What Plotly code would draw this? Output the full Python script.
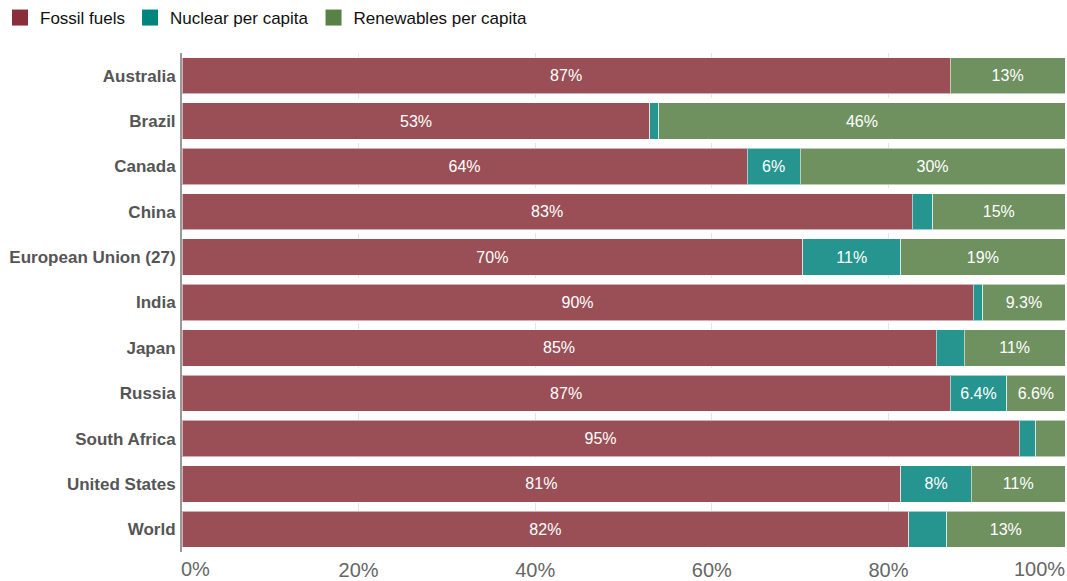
import plotly.graph_objects as go

countries = ["Australia", "Brazil", "Canada", "China", "European Union (27)", "India",
             "Japan", "Russia", "South Africa", "United States", "World"]
fossil = [87.0, 53.0, 64.0, 82.7, 70.3, 89.6, 85.4, 87.0, 94.8, 81.4, 82.3]
nuclear = [0.0, 1.0, 6.0, 2.3, 11.1, 1.1, 3.2, 6.4, 1.9, 8.0, 4.3]
renewables = [13.0, 46.0, 30.0, 15.0, 18.6, 9.3, 11.4, 6.6, 3.3, 10.6, 13.4]
tick_vals = [0, 20, 40, 60, 80, 100]
tick_text = ["0%", "20%", "40%", "60%", "80%", "100%"]

series = [
    ("Fossil fuels", fossil, "#8a2e39", "#9a4f56"),
    ("Nuclear per capita", nuclear, "#00847e", "#27958f"),
    ("Renewables per capita", renewables, "#578145", "#6f915f"),
]

FONT = "Liberation Sans, Arial, sans-serif"


def fmt(v):
    # two significant figures, trailing zeros dropped
    if v >= 10:
        return f"{int(v + 0.5)}%"
    s = f"{v:.1f}".rstrip("0").rstrip(".")
    return s + "%"


def label(v):
    return fmt(v) if v >= 5.5 else ""


fig = go.Figure()
for name, vals, legend_color, bar_color in series:
    fig.add_trace(go.Bar(
        y=countries, x=vals, orientation="h", name=name, showlegend=False,
        marker=dict(color=bar_color, line=dict(color="rgba(255,255,255,0.55)", width=1)),
        text=[label(v) for v in vals], textposition="inside", insidetextanchor="middle",
        textfont=dict(color="white", size=16, family=FONT),
        constraintext="none", hoverinfo="x+y",
    ))
    # legend entry with a larger square swatch
    fig.add_trace(go.Scatter(
        x=[None], y=[None], mode="markers", name=name, showlegend=True,
        marker=dict(color=legend_color, symbol="square", size=16),
    ))

# inner tick labels from the axis; the end labels are aligned to the plot edges
inner_text = ["" if v in (0, 100) else t for v, t in zip(tick_vals, tick_text)]
for v, t in zip(tick_vals, tick_text):
    if v in (0, 100):
        fig.add_annotation(
            x=v, y=0, xref="x", yref="paper", text=t, showarrow=False,
            xanchor="left" if v == 0 else "right", yanchor="top", yshift=-4,
            xshift=-3 if v == 0 else 2,
            font=dict(size=20, color="#666", family=FONT),
        )

fig.update_layout(
    barmode="stack",
    bargap=0.2,
    width=1067, height=581,
    margin=dict(l=182, r=2, t=53, b=29, autoexpand=False),
    paper_bgcolor="white", plot_bgcolor="white",
    font=dict(family=FONT, color="#333"),
    legend=dict(orientation="h", x=0, y=1, xref="container", yref="container",
                xanchor="left", yanchor="top",
                font=dict(size=17, color="#111"), traceorder="normal",
                itemwidth=30, tracegroupgap=0),
    xaxis=dict(range=[0, 100], tickvals=tick_vals, ticktext=inner_text,
               tickfont=dict(size=20, color="#666"), showgrid=True,
               gridcolor="#e4e4e4", griddash="dash", gridwidth=1, zeroline=False,
               showline=False, ticks="", ticklabelstandoff=4, automargin=False),
    yaxis=dict(autorange="reversed", tickfont=dict(size=17, color="#555",
               family=FONT, weight="bold"),
               showline=True, linecolor="#999", linewidth=2, ticks="",
               ticklabelstandoff=1, showgrid=False, automargin=False),
)

fig.write_html("out.html")
